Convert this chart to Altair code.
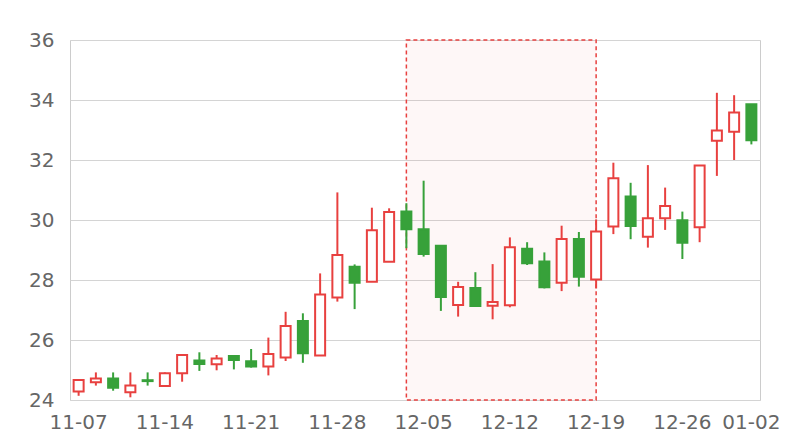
import altair as alt
import pandas as pd

dates = ["11-07", "11-08", "11-11", "11-12", "11-13", "11-14", "11-15", "11-18", "11-19", "11-20",
         "11-21", "11-22", "11-25", "11-26", "11-27", "11-28", "11-29", "12-02", "12-03", "12-04",
         "12-05", "12-06", "12-09", "12-10", "12-11", "12-12", "12-13", "12-16", "12-17", "12-18",
         "12-19", "12-20", "12-23", "12-24", "12-25", "12-26", "12-27", "12-30", "12-31", "01-02"]
opens = [24.28, 24.59, 24.72, 24.26, 24.66, 24.47, 24.89, 25.32, 25.19, 25.47,
         25.29, 25.12, 25.42, 26.63, 25.48, 27.42, 28.44, 27.94, 28.61, 30.28,
         29.69, 29.14, 27.17, 27.73, 27.14, 27.16, 29.04, 28.62, 27.91, 29.37,
         28.02, 29.78, 30.78, 29.44, 30.06, 29.99, 29.76, 32.64, 32.94, 33.86]
highs = [24.67, 24.92, 24.92, 24.92, 24.92, 24.92, 25.53, 25.59, 25.50, 25.49,
         25.70, 26.08, 26.94, 26.89, 28.22, 30.92, 28.52, 30.41, 30.39, 30.56,
         31.31, 29.14, 27.94, 28.26, 28.53, 29.42, 29.26, 28.92, 29.81, 29.60,
         30.02, 31.91, 31.24, 31.83, 31.08, 30.28, 31.82, 34.24, 34.16, 33.86]
lows = [24.14, 24.48, 24.31, 24.09, 24.48, 24.47, 24.61, 24.97, 24.99, 25.02,
        25.08, 24.82, 25.30, 25.24, 25.48, 27.28, 27.03, 27.94, 28.61, 29.06,
        28.78, 26.97, 26.78, 27.13, 26.69, 27.09, 28.50, 27.72, 27.63, 27.78,
        27.72, 29.53, 29.36, 29.08, 29.67, 28.70, 29.26, 31.47, 32.00, 32.52]
closes = [24.67, 24.72, 24.41, 24.48, 24.63, 24.89, 25.50, 25.20, 25.38, 25.33,
          25.12, 25.53, 26.47, 25.56, 27.52, 28.83, 27.91, 29.66, 30.27, 29.69,
          28.87, 27.43, 27.77, 27.13, 27.27, 29.09, 28.56, 27.76, 29.37, 28.11,
          29.62, 31.39, 29.80, 30.06, 30.47, 29.24, 31.82, 32.98, 33.58, 32.66]
y_ticks = [24, 26, 28, 30, 32, 34, 36]
x_labels = ["11-07", "11-14", "11-21", "11-28", "12-05", "12-12", "12-19", "12-26", "01-02"]
highlight_start = ["12-04"]
highlight_end = ["12-19"]

RED = "#e8403f"
GREEN = "#37a13a"

df = pd.DataFrame({"date": dates, "open": opens, "high": highs, "low": lows, "close": closes})
df["dir"] = ["up" if c >= o else "down" for o, c in zip(opens, closes)]
hl = pd.DataFrame({"date": highlight_start, "date2": highlight_end})

xscale = alt.Scale(domain=dates, paddingInner=0, paddingOuter=0)
yscale = alt.Scale(domain=[24, 36], nice=False, zero=False)

xaxis = alt.Axis(values=x_labels, title=None, domain=False, ticks=False, tickSize=0,
                 labelAngle=0, labelPadding=12, labelFontSize=20, labelColor="#666666",
                 labelFont="DejaVu Sans", grid=False, labelOverlap=False)
yaxis = alt.Axis(values=y_ticks, title=None, domain=False, ticks=False, tickSize=0,
                 labelPadding=16, labelFontSize=20, labelColor="#666666",
                 labelFont="DejaVu Sans", grid=True, gridColor="#d4d4d4")

stroke_scale = alt.Scale(domain=["up", "down"], range=[RED, GREEN])
fill_scale = alt.Scale(domain=["up", "down"], range=["#ffffff", GREEN])

rect = alt.Chart(hl).mark_rect(fill=RED, fillOpacity=0.045, stroke=RED, strokeDash=[4, 3],
                               strokeWidth=1.5).encode(
    x=alt.X("date:O", bandPosition=0.5, scale=xscale, axis=xaxis),
    x2=alt.X2("date2", bandPosition=0.5),
    y=alt.value(0),
    y2=alt.value(360),
)

base = alt.Chart(df)
wick = base.mark_rule(strokeWidth=2).encode(
    x=alt.X("date:O", scale=xscale, axis=xaxis),
    y=alt.Y("low:Q", scale=yscale, axis=yaxis),
    y2="high:Q",
    stroke=alt.Stroke("dir:N", scale=stroke_scale, legend=None),
)
body = base.mark_bar(size=10, strokeWidth=2).encode(
    x=alt.X("date:O", scale=xscale, axis=xaxis),
    y=alt.Y("open:Q", scale=yscale, axis=yaxis),
    y2="close:Q",
    stroke=alt.Stroke("dir:N", scale=stroke_scale, legend=None),
    fill=alt.Fill("dir:N", scale=fill_scale, legend=None),
)

chart = alt.layer(rect, wick, body).properties(
    width=690, height=360,
    padding={"left": 62, "top": 32, "right": 32, "bottom": 32},
    autosize="none",
).configure_view(stroke="#cccccc", strokeWidth=1)

chart.save("out.html", embed_options={"renderer": "svg", "actions": False})
